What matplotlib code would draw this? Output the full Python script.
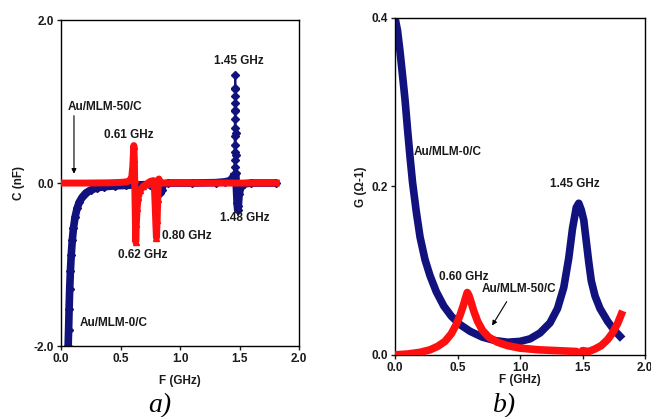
import matplotlib
matplotlib.use('Agg')

import matplotlib.pyplot as plt
import numpy as np

plt.rcParams['font.family'] = 'Liberation Sans'
plt.rcParams['font.weight'] = 'bold'

# (a) capacitance vs frequency
blue_a_f = [0.060, 0.064, 0.068, 0.073, 0.079, 0.086, 0.095, 0.105, 0.118, 0.135,
            0.155, 0.18, 0.21, 0.25, 0.30, 0.36, 0.45, 0.55, 0.65, 0.75,
            0.80, 0.815, 0.826, 0.836, 0.846, 0.86, 0.90, 1.10, 1.30, 1.38,
            1.42, 1.445, 1.455, 1.458, 1.459, 1.459, 1.460, 1.460, 1.461, 1.461,
            1.462, 1.462, 1.463, 1.463, 1.464, 1.465, 1.466, 1.467, 1.468, 1.469,
            1.472, 1.476, 1.480, 1.485, 1.490, 1.497, 1.51, 1.54, 1.60, 1.81]
blue_a_c = [-2.0, -1.8, -1.55, -1.3, -1.08, -0.88, -0.70, -0.55, -0.42, -0.31,
            -0.23, -0.17, -0.12, -0.085, -0.06, -0.045, -0.035, -0.028, -0.022, -0.018,
            -0.012, 0.03, -0.02, -0.12, -0.08, -0.01, 0.0, 0.0, 0.005, 0.015,
            0.03, 0.07, 0.11, 0.20, 0.28, 0.38, 0.47, 0.58, 0.68, 0.78,
            0.88, 0.98, 1.07, 1.17, 1.33, 1.15, 0.90, 0.62, 0.35, 0.12,
            0.0, -0.12, -0.25, -0.33, -0.28, -0.14, -0.05, -0.01, 0.0, 0.0]

red_a_f = [0.0, 0.2, 0.4, 0.5, 0.55, 0.58, 0.595, 0.603, 0.608, 0.612,
           0.616, 0.619, 0.622, 0.625, 0.628, 0.633, 0.64, 0.65, 0.665, 0.69,
           0.72, 0.75, 0.775, 0.785, 0.792, 0.797, 0.802, 0.808, 0.813, 0.818,
           0.823, 0.83, 0.85, 1.0, 1.5, 1.81]
red_a_c = [0.0, 0.0, 0.003, 0.008, 0.015, 0.03, 0.08, 0.2, 0.35, 0.46,
           0.3, 0.05, -0.2, -0.45, -0.72, -0.5, -0.3, -0.17, -0.09, -0.04,
           -0.01, 0.02, 0.03, -0.05, -0.3, -0.5, -0.67, -0.45, -0.2, 0.02,
           0.05, 0.02, 0.0, 0.0, 0.0, 0.0]

# (b) conductance vs frequency
blue_b_f = [0.00, 0.02, 0.04, 0.06, 0.08, 0.10, 0.12, 0.14, 0.17, 0.20,
            0.24, 0.28, 0.33, 0.39, 0.45, 0.52, 0.60, 0.70, 0.80, 0.90,
            1.00, 1.08, 1.16, 1.24, 1.30, 1.35, 1.39, 1.42, 1.45, 1.47,
            1.49, 1.51, 1.53, 1.55, 1.57, 1.60, 1.64, 1.70, 1.75, 1.80]
blue_b_g = [0.400, 0.385, 0.360, 0.332, 0.303, 0.268, 0.235, 0.205, 0.170, 0.140,
            0.113, 0.094, 0.075, 0.058, 0.046, 0.036, 0.028, 0.021, 0.017, 0.015,
            0.016, 0.019, 0.026, 0.038, 0.055, 0.080, 0.115, 0.150, 0.175, 0.180,
            0.172, 0.160, 0.135, 0.110, 0.088, 0.070, 0.055, 0.040, 0.030, 0.022]

red_b_f = [0.00, 0.10, 0.20, 0.28, 0.34, 0.40, 0.45, 0.49, 0.52, 0.545,
           0.565, 0.578, 0.59, 0.61, 0.63, 0.66, 0.70, 0.75, 0.82, 0.90,
           1.00, 1.15, 1.30, 1.45, 1.48, 1.50, 1.55, 1.60, 1.65, 1.70,
           1.74, 1.78, 1.81]
red_b_g = [0.000, 0.001, 0.003, 0.006, 0.010, 0.016, 0.025, 0.036, 0.047, 0.058,
           0.068, 0.074, 0.071, 0.062, 0.052, 0.040, 0.029, 0.021, 0.015, 0.011,
           0.008, 0.006, 0.005, 0.004, 0.001, 0.005, 0.004, 0.007, 0.011, 0.018,
           0.026, 0.037, 0.048]

navy = '#12127f'
red = '#ff1010'
txt = '#1a1a1a'
fs = 8.5

fig = plt.figure(figsize=(6.51, 4.17), dpi=100)
ax1 = fig.add_axes([0.0937, 0.170, 0.3656, 0.782])
ax2 = fig.add_axes([0.6068, 0.149, 0.3840, 0.808])

for ax in (ax1, ax2):
    ax.tick_params(direction='out', length=3, width=1, labelsize=fs,
                   colors=txt, pad=2)
    for s in ax.spines.values():
        s.set_linewidth(1)
    ax.set_xlim(0, 2)
    ax.set_xticks([0, 0.5, 1.0, 1.5, 2.0])
    ax.xaxis.set_major_formatter(matplotlib.ticker.FormatStrFormatter('%.1f'))
    ax.yaxis.set_major_formatter(matplotlib.ticker.FormatStrFormatter('%.1f'))

# panel a: thick band everywhere except the narrow 1.45 GHz spike
bf = np.array(blue_a_f)
bc = np.array(blue_a_c)
band = np.ma.masked_where(bc > 0.13, bc)
ax1.plot(bf, bc, '-', color=navy, lw=1.5, marker='D', ms=3.8, zorder=2)
ax1.plot(bf, band, '-', color=navy, lw=5.5, solid_capstyle='butt', zorder=2)
ax1.plot(red_a_f, red_a_c, '-', color=red, lw=5, marker='^', ms=4.5,
         markevery=slice(6, 32), zorder=3)
ax1.set_ylim(-2, 2)
ax1.set_yticks([-2, 0, 2])
ax1.set_xlabel('F (GHz)', fontsize=fs, fontweight='bold', color=txt, labelpad=7)
ax1.set_ylabel('C (nF)', fontsize=fs, fontweight='bold', color=txt, labelpad=6)

kw = dict(fontsize=fs, fontweight='bold', color=txt, ha='center', va='center')
ax1.text(1.49, 1.50, '1.45 GHz', **kw)
ax1.text(0.37, 0.93, 'Au/MLM-50/C', **kw)
ax1.text(0.57, 0.59, '0.61 GHz', **kw)
ax1.text(1.54, -0.43, '1.48 GHz', **kw)
ax1.text(1.06, -0.65, '0.80 GHz', **kw)
ax1.text(0.69, -0.88, '0.62 GHz', **kw)
ax1.text(0.44, -1.72, 'Au/MLM-0/C', **kw)
ax1.annotate('', xy=(0.109, 0.08), xytext=(0.109, 0.86),
             arrowprops=dict(arrowstyle='-|>', color='black', lw=0.8,
                             mutation_scale=7))

# panel b
ax2.plot(blue_b_f, blue_b_g, '-', color=navy, lw=5.5, zorder=2)
ax2.plot(red_b_f, red_b_g, '-', color=red, lw=5.5, zorder=3)
ax2.set_ylim(0, 0.4)
ax2.set_yticks([0, 0.2, 0.4])
ax2.set_xlabel('F (GHz)', fontsize=fs, fontweight='bold', color=txt, labelpad=0)
ax2.set_ylabel('G (\u03a9-1)', fontsize=fs, fontweight='bold', color=txt, labelpad=3)
ax2.text(0.42, 0.241, 'Au/MLM-0/C', **kw)
ax2.text(1.44, 0.203, '1.45 GHz', **kw)
ax2.text(0.55, 0.093, '0.60 GHz', **kw)
ax2.text(0.99, 0.078, 'Au/MLM-50/C', **kw)
ax2.annotate('', xy=(0.765, 0.032), xytext=(0.905, 0.066),
             arrowprops=dict(arrowstyle='-|>', color='black', lw=0.8,
                             mutation_scale=7))

fig.text(160 / 651, 1 - 406 / 417, 'a)', fontsize=20, style='italic',
         family='Liberation Serif', fontweight='normal', ha='center', va='center')
fig.text(505 / 651, 1 - 406 / 417, 'b)', fontsize=20, style='italic',
         family='Liberation Serif', fontweight='normal', ha='center', va='center')

plt.savefig('out.png', dpi=100)
